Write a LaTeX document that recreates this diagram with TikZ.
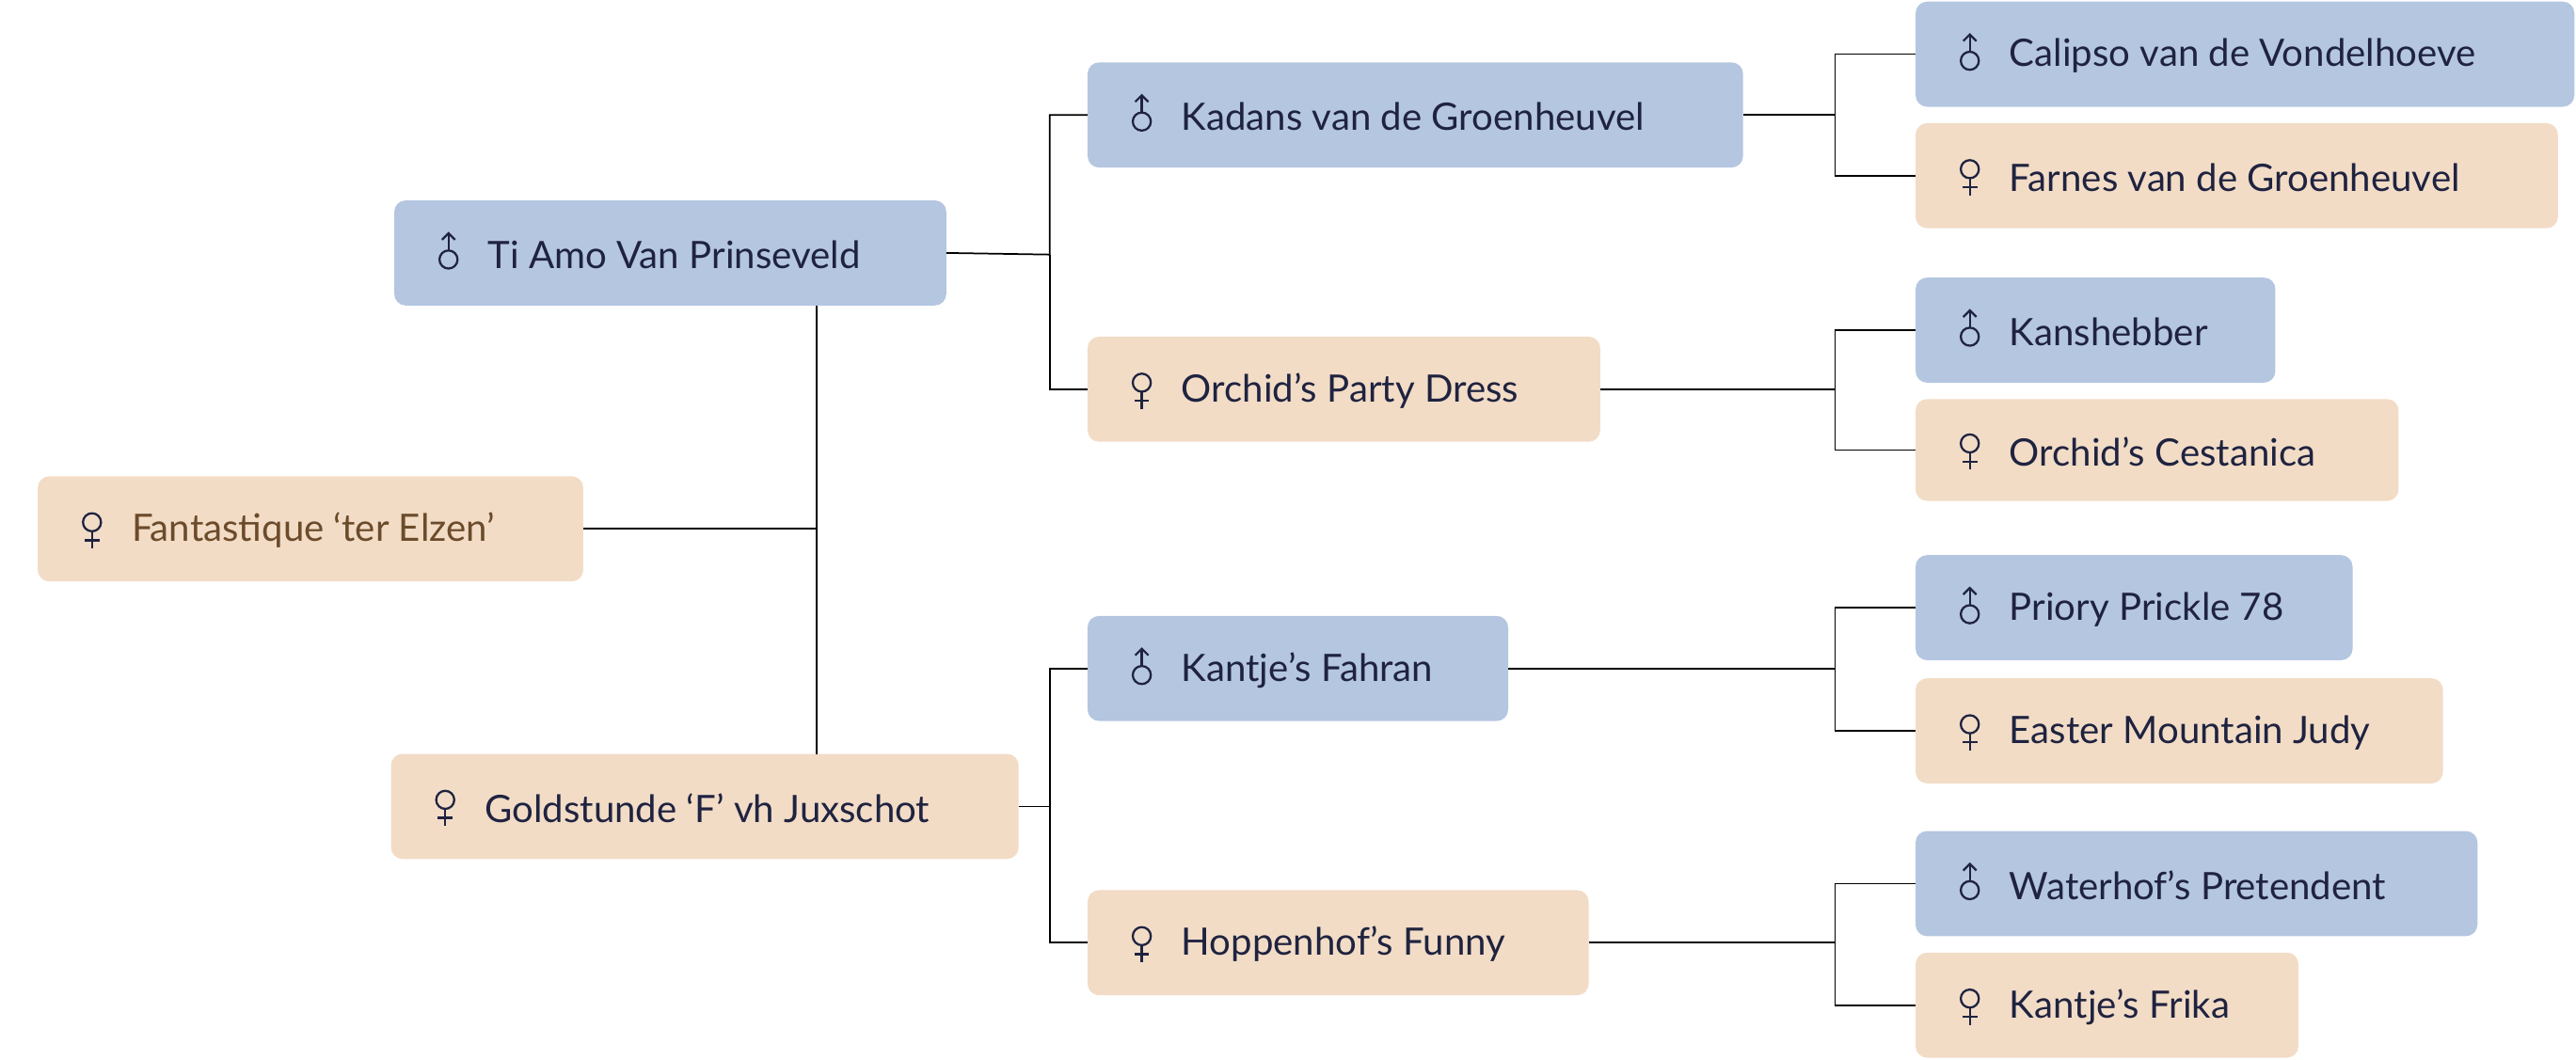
\documentclass[tikz,border=0pt]{standalone}
\usepackage{fontspec}
\setmainfont{Lato}
\usetikzlibrary{calc}
\definecolor{bl}{HTML}{B4C6E0}
\definecolor{bg}{HTML}{F2DCC6}
\definecolor{tx}{HTML}{1F2340}
\definecolor{br}{HTML}{6B4B2A}
\tikzset{
 boxb/.style={fill=bl,rounded corners=7pt,draw=none},
 boxf/.style={fill=bg,rounded corners=7pt,draw=none},
 lbl/.style={anchor=west,inner sep=0pt,font=\fontsize{23}{26}\selectfont,text=tx},
 ln/.style={draw=black,line width=1pt},
 ic/.style={draw=tx,line width=1.3pt}
}
\newcommand{\pbox}[8]{% name l t r b style text sex
 \path[#6] (#2,#3) rectangle (#4,#5);
 \coordinate (#1w) at (#2,{(#3+#5)/2});
 \coordinate (#1e) at (#4,{(#3+#5)/2});
 \node[lbl,#8] (#1) at ({#2+57},{(#3+#5)/2+1}) {#7};
}
\newcommand{\male}[1]{\draw[ic] ($(#1)+(33,4)$) circle (5.5);
 \draw[ic] ($(#1)+(33,-1.5)$) -- ($(#1)+(33,-12)$);
 \draw[ic] ($(#1)+(29,-8)$) -- ($(#1)+(33,-12)$) -- ($(#1)+(37,-8)$);}
\newcommand{\female}[1]{\draw[ic] ($(#1)+(33,-4)$) circle (5.5);
 \draw[ic] ($(#1)+(33,1.5)$) -- ($(#1)+(33,12)$);
 \draw[ic] ($(#1)+(28.5,7)$) -- ($(#1)+(37.5,7)$);}
\begin{document}
\begin{tikzpicture}[x=1pt,y=-1pt]
\useasboundingbox (0,0) rectangle (1568,645);
\pbox{ti}{240}{122}{576}{186}{boxb}{Ti Amo Van Prinseveld}{}
\pbox{fa}{23}{290}{355}{354}{boxf}{Fantastique ‘ter Elzen’}{text=br}
\pbox{go}{238}{459}{620}{523}{boxf}{Goldstunde ‘F’ vh Juxschot}{}
\pbox{ka}{662}{38}{1061}{102}{boxb}{Kadans van de Groenheuvel}{}
\pbox{or}{662}{205}{974}{269}{boxf}{Orchid’s Party Dress}{}
\pbox{kf}{662}{375}{918}{439}{boxb}{Kantje’s Fahran}{}
\pbox{ho}{662}{542}{967}{606}{boxf}{Hoppenhof’s Funny}{}
\pbox{ca}{1166}{1}{1567}{65}{boxb}{Calipso van de Vondelhoeve}{}
\pbox{fr}{1166}{75}{1557}{139}{boxf}{Farnes van de Groenheuvel}{}
\pbox{kn}{1166}{169}{1385}{233}{boxb}{Kanshebber}{}
\pbox{oc}{1166}{243}{1460}{305}{boxf}{Orchid’s Cestanica}{}
\pbox{pr}{1166}{338}{1432}{402}{boxb}{Priory Prickle 78}{}
\pbox{ea}{1166}{413}{1487}{477}{boxf}{Easter Mountain Judy}{}
\pbox{wa}{1166}{506}{1508}{570}{boxb}{Waterhof’s Pretendent}{}
\pbox{kr}{1166}{580}{1399}{644}{boxf}{Kantje’s Frika}{}
\foreach \n in {ti,ka,kf,ca,kn,pr,wa} {\male{\n w}}
\foreach \n in {fa,go,or,ho,fr,oc,ea,kr} {\female{\n w}}
% connectors
\draw[ln] (tie) -- (639,155) |- (kaw);
\draw[ln] (639,155) |- (orw);
\draw[ln] (goe) -- (639,491) |- (kfw);
\draw[ln] (639,491) |- (how);
\draw[ln] (497,186) -- (497,459);
\draw[ln] (fae) -- (497,322);
\draw[ln] (kae) -- (1117,70) |- (caw);
\draw[ln] (1117,70) |- (frw);
\draw[ln] (ore) -- (1117,237) |- (knw);
\draw[ln] (1117,237) |- (ocw);
\draw[ln] (kfe) -- (1117,407) |- (prw);
\draw[ln] (1117,407) |- (eaw);
\draw[ln] (hoe) -- (1117,574) |- (waw);
\draw[ln] (1117,574) |- (krw);
\end{tikzpicture}
\end{document}
